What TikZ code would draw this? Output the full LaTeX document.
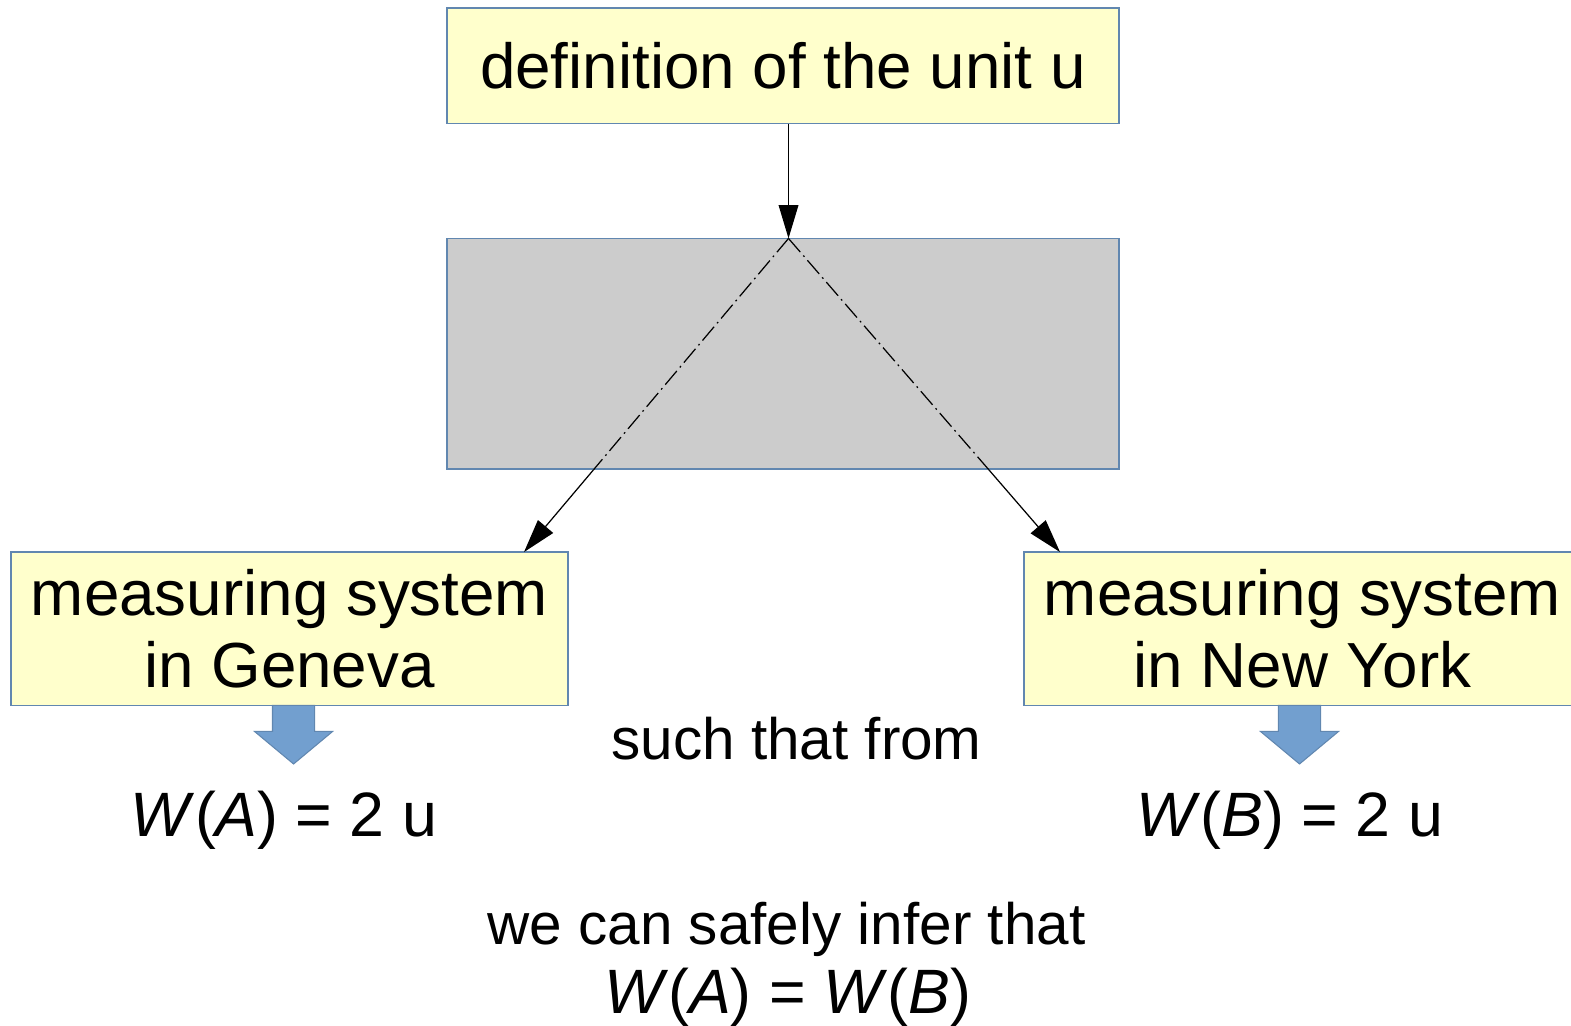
\documentclass[tikz,border=0pt]{standalone}
\usepackage{fontspec}
\setmainfont{Liberation Sans}
\usetikzlibrary{arrows.meta, positioning, calc}
\definecolor{paleyellow}{RGB}{255,255,204}
\definecolor{edgeblue}{RGB}{114,159,207}
\definecolor{panelgray}{RGB}{204,204,204}
\definecolor{arrowblue}{RGB}{114,159,207}

\begin{document}
\begin{tikzpicture}[
  unitbox/.style={rectangle, draw=edgeblue!85!black, fill=paleyellow, line width=0.4pt,
                  inner sep=0pt, minimum width=6.71cm, minimum height=1.15cm,
                  font=\fontsize{18.1}{20.2}\selectfont, align=center},
  sysbox/.style={unitbox, minimum width=5.56cm, minimum height=1.53cm},
  graybox/.style={rectangle, draw=edgeblue!85!black, fill=panelgray, line width=0.4pt,
                  minimum width=6.71cm, minimum height=2.30cm},
  formula/.style={font=\fontsize{17.8}{20}\selectfont, anchor=base, inner sep=0pt},
  remark/.style={font=\fontsize{16.6}{19}\selectfont, anchor=base, inner sep=0pt},
  arr/.style={-{Triangle[length=9.5pt, width=5.6pt]}, line width=0.35pt, black},
  dashdot/.style={line width=0.35pt, dash pattern=on 5.1pt off 1.3pt on 0.5pt off 1.3pt},
  fatarrow/.style={fill=arrowblue, draw=arrowblue!85!black, line width=0.3pt},
]
\useasboundingbox (0,0) rectangle (15.68,-10.24);

% Boxes
\node[unitbox] (unit) at (7.815,-0.655) {definition of the unit u};
\node[graybox] (panel) at (7.815,-3.53) {};
\node[sysbox] (geneva) at (2.89,-6.275) {measuring system\\in Geneva};
\node[sysbox] (newyork) at (13.00,-6.275) {measuring system\\in New York};

% Ends of the flows
\coordinate (apex) at (7.87,-2.38);
\coordinate (gvatip) at (5.23,-5.51);
\coordinate (nyctip) at (10.58,-5.51);

% Flows
\draw[arr] (unit.south -| apex) -- (apex);
\draw[dashdot] (apex) -- (intersection of apex--gvatip and panel.south west--panel.south east) coordinate (gvacut);
\draw[dashdot] (apex) -- (intersection of apex--nyctip and panel.south west--panel.south east) coordinate (nyccut);
\draw[arr] (gvacut) -- (gvatip);
\draw[arr] (nyccut) -- (nyctip);

% Block arrows
\foreach \bx in {2.93, 12.97}
  \filldraw[fatarrow] (\bx-0.21,-7.04) -- (\bx-0.21,-7.30) -- (\bx-0.39,-7.30) -- (\bx,-7.625)
    -- (\bx+0.39,-7.30) -- (\bx+0.21,-7.30) -- (\bx+0.21,-7.04) -- cycle;

% Texts
\node[formula] (wa) at (2.835,-8.35) {\textit{W}(\textit{A}) = 2 u};
\node[formula] (wb) at (12.875,-8.35) {\textit{W}(\textit{B}) = 2 u};
\node[remark] (from) at (7.95,-7.58) {such that from};
\node[remark] (infer) at (7.85,-9.43) {we can safely infer that};
\node[formula] (same) at (7.86,-10.12) {\textit{W}(\textit{A}) = \textit{W}(\textit{B})};

\end{tikzpicture}
\end{document}
